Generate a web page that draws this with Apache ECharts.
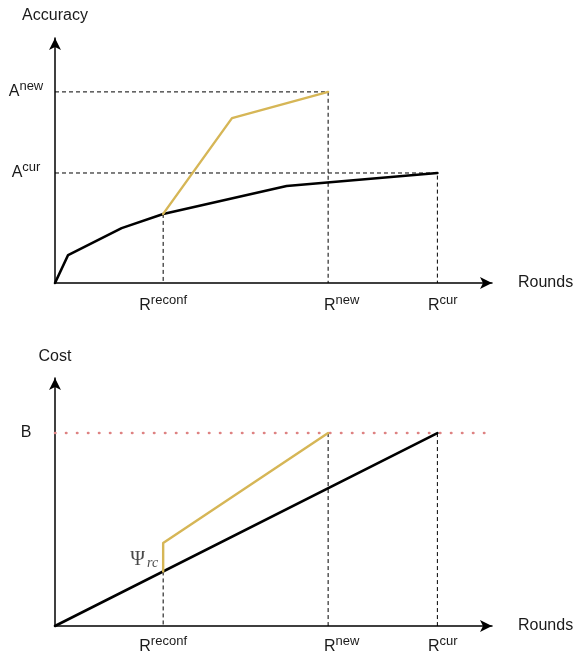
<!DOCTYPE html>
<html>
<head>
<meta charset="utf-8">
<script src="https://cdn.jsdelivr.net/npm/echarts@6/dist/echarts.min.js"></script>
<style>
  html, body { margin: 0; padding: 0; background: #ffffff; }
  #chart { width: 575px; height: 656px; }
</style>
</head>
<body>
<div id="chart"></div>
<script>
// ---- Rounds (shared horizontal scale) ----
const roundsMax = 40;
const rReconf = 9.9;
const rNew = 25;
const rCur = 35;
const roundTicks = [rReconf, rNew, rCur];
const roundTickNames = ['reconf', 'new', 'cur'];
const roundTickShift = [0, 27, 11];   // extra left room so the labels sit a bit right of the tick

// ---- Accuracy panel ----
const accMax = 100;
const accCur = 44.9;
const accNew = 78;
const accTicks = [accCur, accNew];
const accTickNames = ['cur', 'new'];
const accRounds = [0, 1.2, 6.1, 9.9, 21.2, 35];
const accCurve = [0, 11.4, 22.4, 28.2, 39.6, 44.9];
const accReconfRounds = [9.9, 16.2, 25];
const accReconfCurve = [28.2, 67.3, 78];

// ---- Cost panel ----
const costMax = 100;
const budget = 77.8;
const budgetEnd = 39.3;
const costRounds = [0, 35];
const costCurve = [0, 77.8];
const costReconfRounds = [9.9, 9.9, 25];
const costReconfCurve = [22.0, 33.5, 77.8];

const FONT = 'Liberation Sans';
const TEXT = '#1a1a1a';
const GOLD = '#d6b656';

const zip = (xs, ys) => xs.map((x, i) => [x, ys[i]]);

// base letter + raised superscript, shared by all tick labels
const supRich = {
  b: { fontSize: 16, lineHeight: 24, verticalAlign: 'middle', color: TEXT, fontFamily: FONT },
  s: { fontSize: 13, lineHeight: 13, verticalAlign: 'top', color: TEXT, fontFamily: FONT }
};
roundTickShift.forEach((w, i) => { supRich['g' + i] = { width: w, lineHeight: 16 }; });

function roundLabel(v) {
  const i = roundTicks.findIndex(t => Math.abs(t - v) < 1e-6);
  if (i < 0) return '';
  const pad = roundTickShift[i] > 0 ? '{g' + i + '| }' : '';
  return pad + '{b|R}{s|' + roundTickNames[i] + '}';
}

function xAxisFor(gridIndex, labelMargin) {
  return {
    type: 'value', gridIndex: gridIndex, min: 0, max: roundsMax,
    name: 'Rounds', nameLocation: 'end', nameGap: 26,
    nameTextStyle: { fontSize: 16, color: TEXT, fontFamily: FONT, verticalAlign: 'middle' },
    axisLine: { show: true, onZero: false, symbol: ['none', 'arrow'], symbolSize: [9, 12],
      lineStyle: { color: '#000', width: 1.5 } },
    axisTick: { show: false },
    splitLine: { show: false },
    axisLabel: { show: true, customValues: roundTicks, margin: labelMargin, align: 'center',
      formatter: roundLabel, rich: supRich }
  };
}

function yAxisFor(gridIndex, max, name, nameGap, ticks, fmt) {
  return {
    type: 'value', gridIndex: gridIndex, min: 0, max: max,
    name: name, nameLocation: 'end', nameGap: nameGap,
    nameTextStyle: { fontSize: 16, color: TEXT, fontFamily: FONT },
    axisLine: { show: true, onZero: false, symbol: ['none', 'arrow'], symbolSize: [9, 12],
      lineStyle: { color: '#000', width: 1.5 } },
    axisTick: { show: false },
    splitLine: { show: false },
    axisLabel: { show: true, customValues: ticks, margin: 29, align: 'center',
      formatter: fmt, rich: supRich }
  };
}

function guide(idx, pts) {
  return {
    type: 'line', xAxisIndex: idx, yAxisIndex: idx, data: pts, symbol: 'none', silent: true,
    clip: false, z: 1, lineStyle: { color: '#000', width: 1, type: [4, 3] }
  };
}

function curve(idx, pts, color, width) {
  return {
    type: 'line', xAxisIndex: idx, yAxisIndex: idx, data: pts, symbol: 'none', silent: true,
    clip: false, z: 3, lineStyle: { color: color, width: width, cap: 'round', join: 'round' }
  };
}

const accAtReconf = accCurve[accRounds.indexOf(rReconf)];

const option = {
  animation: false,
  backgroundColor: '#ffffff',
  grid: [
    { left: 55, top: 38, width: 437, height: 245 },
    { left: 55, top: 378, width: 437, height: 248 }
  ],
  xAxis: [ xAxisFor(0, 11), xAxisFor(1, 9) ],
  yAxis: [
    yAxisFor(0, accMax, 'Accuracy', 14, accTicks, v => {
      const i = accTicks.findIndex(t => Math.abs(t - v) < 1e-6);
      return i < 0 ? '' : '{b|A}{s|' + accTickNames[i] + '}';
    }),
    yAxisFor(1, costMax, 'Cost', 13, [budget], v => '{b|B}')
  ],
  series: [
    // accuracy guides
    guide(0, [[0, accNew], [rNew, accNew], [rNew, 0]]),
    guide(0, [[0, accCur], [rCur, accCur], [rCur, 0]]),
    guide(0, [[rReconf, accAtReconf], [rReconf, 0]]),
    curve(0, zip(accRounds, accCurve), '#000', 2.6),
    curve(0, zip(accReconfRounds, accReconfCurve), GOLD, 2.4),

    // cost guides
    guide(1, [[rReconf, costReconfCurve[0]], [rReconf, 0]]),
    guide(1, [[rNew, budget], [rNew, 0]]),
    guide(1, [[rCur, budget], [rCur, 0]]),
    {
      type: 'line', xAxisIndex: 1, yAxisIndex: 1, symbol: 'none', silent: true, clip: false, z: 2,
      data: [[0, budget], [budgetEnd, budget]],
      lineStyle: { color: '#de8282', width: 2.6, type: [0.4, 10.6], cap: 'round' }
    },
    curve(1, zip(costRounds, costCurve), '#000', 2.6),
    curve(1, zip(costReconfRounds, costReconfCurve), GOLD, 2.4),
    {
      type: 'scatter', xAxisIndex: 1, yAxisIndex: 1, symbolSize: 0, silent: true, z: 4,
      data: [[rReconf, (costReconfCurve[0] + costReconfCurve[1]) / 2]],
      label: {
        show: true, position: 'left', distance: 5, offset: [0, 3],
        formatter: '{psi|Ψ}{rc|rc}',
        rich: {
          psi: { fontFamily: 'Liberation Serif', fontSize: 20, lineHeight: 12, verticalAlign: 'top', color: TEXT },
          rc: { fontFamily: 'Liberation Serif', fontStyle: 'italic', fontSize: 14, lineHeight: 21,
                padding: [0, 0, 0, 2], verticalAlign: 'bottom', color: TEXT }
        }
      }
    }
  ]
};

const chart = echarts.init(document.getElementById('chart'), null, { renderer: 'canvas' });
chart.setOption(option);
</script>
</body>
</html>
